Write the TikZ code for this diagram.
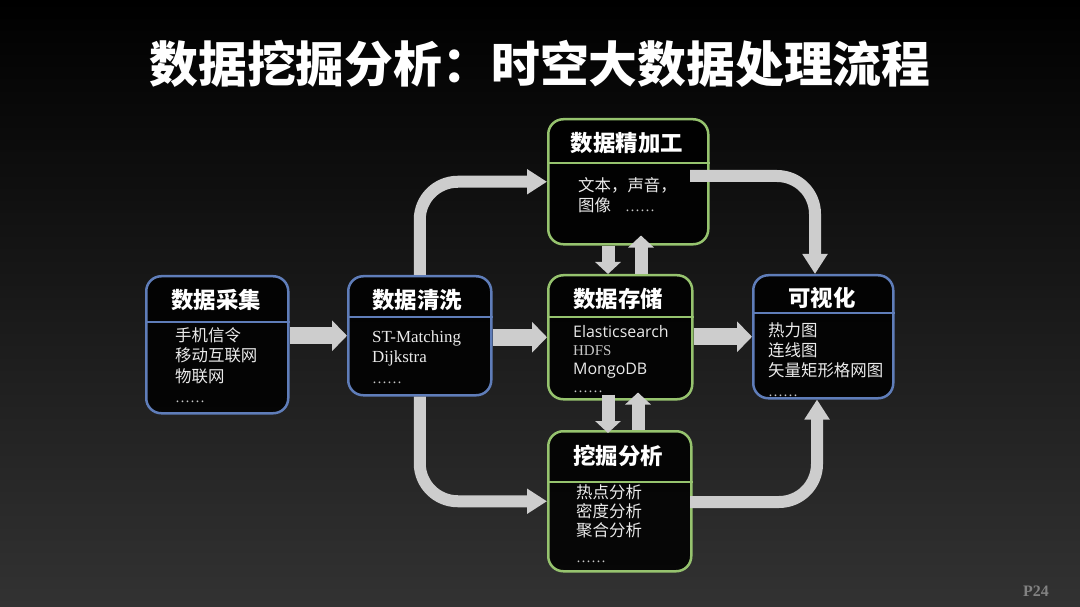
\documentclass[tikz,border=0pt]{standalone}
\usepackage{fontspec}
\usetikzlibrary{arrows.meta,calc}
\newfontfamily\cjk{Noto Sans CJK SC}
\newfontfamily\lserif{Liberation Serif}
\newfontfamily\osans{Open Sans}
\definecolor{bgbot}{RGB}{50,50,50}
\definecolor{boxblue}{RGB}{95,125,185}
\definecolor{boxgreen}{RGB}{150,195,110}
\definecolor{arrowgray}{RGB}{205,205,205}
\definecolor{bodytxt}{RGB}{235,235,235}
\definecolor{dotgray}{RGB}{200,200,200}
\definecolor{pagegray}{RGB}{130,130,130}
\begin{document}
\begin{tikzpicture}[x=1bp,y=-1bp,
  box/.style={draw=#1, line width=2.5bp, rounded corners=15bp, fill=black, fill opacity=0.85, inner sep=0pt, anchor=north west},
  divline/.style={draw=#1, line width=2.5bp},
  ttl/.style={text=white, font=\cjk\bfseries\fontsize{22.5}{27}\selectfont, inner sep=0pt},
  body/.style={text=bodytxt, font=\cjk\fontsize{16.5}{20}\selectfont, anchor=base west, inner sep=0pt},
  serifbody/.style={text=bodytxt, font=\lserif\fontsize{17}{20}\selectfont, anchor=base west, inner sep=0pt},
  sansbody/.style={text=bodytxt, font=\osans\fontsize{16}{20}\selectfont, anchor=base west, inner sep=0pt},
  dots/.style={text=dotgray, font=\lserif\fontsize{15}{18}\selectfont, anchor=base west, inner sep=0pt},
  bigarr/.style={draw=arrowgray, line width=17bp, -{Triangle[width=30bp,length=15bp]}},
  midarr/.style={draw=arrowgray, line width=13bp, -{Triangle[width=25bp,length=12bp]}},
  curarr/.style={draw=arrowgray, line width=12bp, rounded corners=38bp, -{Triangle[width=24bp,length=20bp]}}
]
\useasboundingbox (0,0) rectangle (1080,607);
\shade[top color=black, middle color=black, bottom color=bgbot] (0,0) rectangle (1080,607);

% title
\node[text=white, font=\cjk\bfseries\fontsize{49}{55}\selectfont, inner sep=0pt] (title) at (540,64) {数据挖掘分析：时空大数据处理流程};

% boxes
\node[box=boxblue, minimum width=142bp, minimum height=137bp] (b1) at (145,275) {};
\draw[divline=boxblue] (b1.west |- 0,322) -- (b1.east |- 0,322);
\node[box=boxblue, minimum width=143bp, minimum height=119bp] (b2) at (347,275) {};
\draw[divline=boxblue] (b2.west |- 0,317) -- (b2.east |- 0,317);
\node[box=boxgreen, minimum width=160bp, minimum height=125bp] (b3) at (547,118) {};
\draw[divline=boxgreen] (b3.west |- 0,163) -- (b3.east |- 0,163);
\node[box=boxgreen, minimum width=144bp, minimum height=124bp] (b4) at (547,274) {};
\draw[divline=boxgreen] (b4.west |- 0,317) -- (b4.east |- 0,317);
\node[box=boxgreen, minimum width=143bp, minimum height=140bp] (b5) at (547,430) {};
\draw[divline=boxgreen] (b5.west |- 0,482) -- (b5.east |- 0,482);
\node[box=boxblue, minimum width=140bp, minimum height=123bp] (b6) at (752,274) {};
\draw[divline=boxblue] (b6.west |- 0,313) -- (b6.east |- 0,313);

% box titles
\node[ttl] (t1) at (216,300) {数据采集};
\node[ttl] (t2) at (417,300) {数据清洗};
\node[ttl] (t3) at (627,143) {数据精加工};
\node[ttl] (t4) at (618,299) {数据存储};
\node[ttl] (t5) at (618,456) {挖掘分析};
\node[ttl] (t6) at (822,298) {可视化};

% box bodies
\node[body] (l11) at (175,341) {手机信令};
\node[body] (l12) at (175,361.5) {移动互联网};
\node[body] (l13) at (175,382) {物联网};
\node[dots] (l14) at (175,402.5) {……};

\node[serifbody] (l21) at (372,342) {ST-Matching};
\node[serifbody] (l22) at (372,362.5) {Dijkstra};
\node[dots] (l23) at (372,383) {……};

\node[body] (l31) at (578,192) {文本，声音，};
\node[body] (l32) at (578,212) {图像};
\node[dots] (l33) at (625,212) {……};

\node[sansbody] (l41) at (573,337) {Elasticsearch};
\node[serifbody, font=\lserif\fontsize{15}{18}\selectfont, text=dotgray] (l42) at (573,355.5) {HDFS};
\node[sansbody] (l43) at (573,374) {MongoDB};
\node[dots] (l44) at (573,392.5) {……};

\node[body] (l51) at (576,498) {热点分析};
\node[body] (l52) at (576,517) {密度分析};
\node[body] (l53) at (576,536) {聚合分析};
\node[dots] (l54) at (576,562) {……};

\node[body] (l61) at (768,336) {热力图};
\node[body] (l62) at (768,356) {连线图};
\node[body] (l63) at (768,376) {矢量矩形格网图};
\node[dots] (l64) at (768,396) {……};

% page number
\node[text=pagegray, font=\lserif\bfseries\fontsize{16}{18}\selectfont, inner sep=0pt] (pg) at (1036,591) {P24};

% helper coordinates
\coordinate (xd) at (608,0);
\coordinate (xu) at (641,0);
\coordinate (xu2) at (638,0);
\coordinate (xr) at (815,0);
\coordinate (xr2) at (817,0);
\coordinate (c2s) at (690,176);
\coordinate (c4s) at (690,502);

% straight arrows
\draw[bigarr] (b1.east |- b2.west) -- (b2.west);
\draw[bigarr] (b2.east |- b4.west) -- (b4.west);
\draw[bigarr] (b4.east |- b6.west) -- (b6.west);

\draw[midarr] (b3.south -| xd) -- (b4.north -| xd);
\draw[midarr, shorten >=-10bp] (b4.north -| xu) -- (b3.south -| xu);
\draw[midarr, shorten <=-6bp, shorten >=-3bp] (b4.south -| xd) -- (b5.north -| xd);
\draw[midarr, shorten >=-8bp] (b5.north -| xu2) -- (b4.south -| xu2);

% curved arrows
\draw[curarr] (b2.north) |- (b3.west);
\draw[curarr] (c2s) -| (b6.north -| xr);
\draw[curarr] (b2.south) |- (b5.west);
\draw[curarr] (c4s) -| (b6.south -| xr2);
\end{tikzpicture}
\end{document}
